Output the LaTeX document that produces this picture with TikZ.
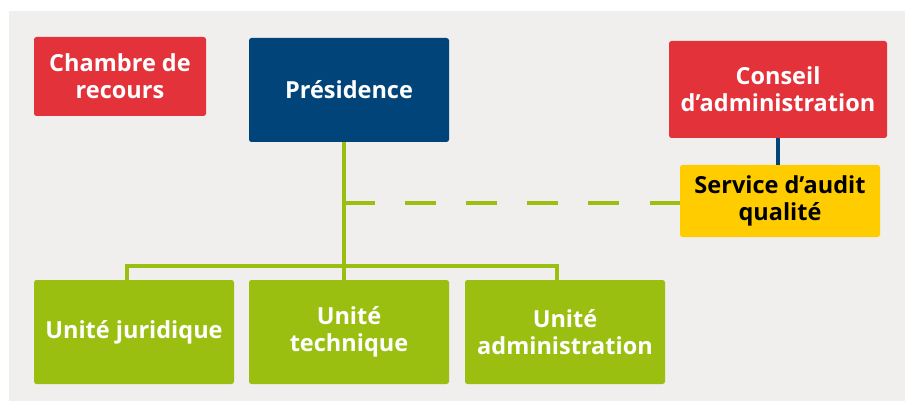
\documentclass[tikz,border=0pt]{standalone}
\usepackage{fontspec}
\setmainfont{Open Sans}
\definecolor{bgc}{HTML}{F0EFED}
\definecolor{redc}{HTML}{E4323B}
\definecolor{navyc}{HTML}{00447A}
\definecolor{greenc}{HTML}{9BBF11}
\definecolor{yellowc}{HTML}{FFCC00}
\tikzset{
  box/.style={rounded corners=2.5pt, inner sep=0pt, align=center, text=white,
    font=\fontsize{23.5}{27}\selectfont\bfseries},
  link/.style={line width=3.5pt, draw=greenc},
}
\begin{document}
\begin{tikzpicture}[x=1pt,y=-1pt]
\useasboundingbox (0,0) rectangle (911,401);
\fill[white] (0,0) rectangle (911,401);
\fill[bgc] (9,11) rectangle (905,401);
% boxes: center, width, height
\node[box, fill=redc, minimum width=172pt, minimum height=79pt] (chambre) at (120,76.5) {Chambre de\\recours};
\node[box, fill=navyc, minimum width=200pt, minimum height=104pt] (pres) at (349,90) {Présidence};
\node[box, fill=redc, minimum width=218pt, minimum height=97pt] (conseil) at (778,89.5) {Conseil\\d’administration};
\node[box, fill=yellowc, text=black, minimum width=200pt, minimum height=72pt] (audit) at (780,201) {Service d’audit\\qualité};
\node[box, fill=greenc, minimum width=200pt, minimum height=104pt] (uj) at (134,332) {Unité juridique};
\node[box, fill=greenc, minimum width=200pt, minimum height=104pt] (ut) at (349,332) {Unité\\technique};
\node[box, fill=greenc, minimum width=200pt, minimum height=104pt] (ua) at (565,332) {Unité\\administration};
% connectors
\coordinate (trunk) at (344,266);
\coordinate (lft) at (127,266);
\coordinate (rgt) at (557,266);
\coordinate (dash) at (344,203);
\draw[link] (pres.south -| trunk) -- (ut.north -| trunk);
\draw[link] (uj.north -| lft) -- (lft) -- (rgt) -- (ua.north -| rgt);
\draw[link, dash pattern=on 30.55pt off 30.55pt] (dash) -- (audit.west |- dash);
\draw[line width=3.5pt, draw=navyc] (conseil.south) -- (audit.north -| conseil.south);
\end{tikzpicture}
\end{document}
